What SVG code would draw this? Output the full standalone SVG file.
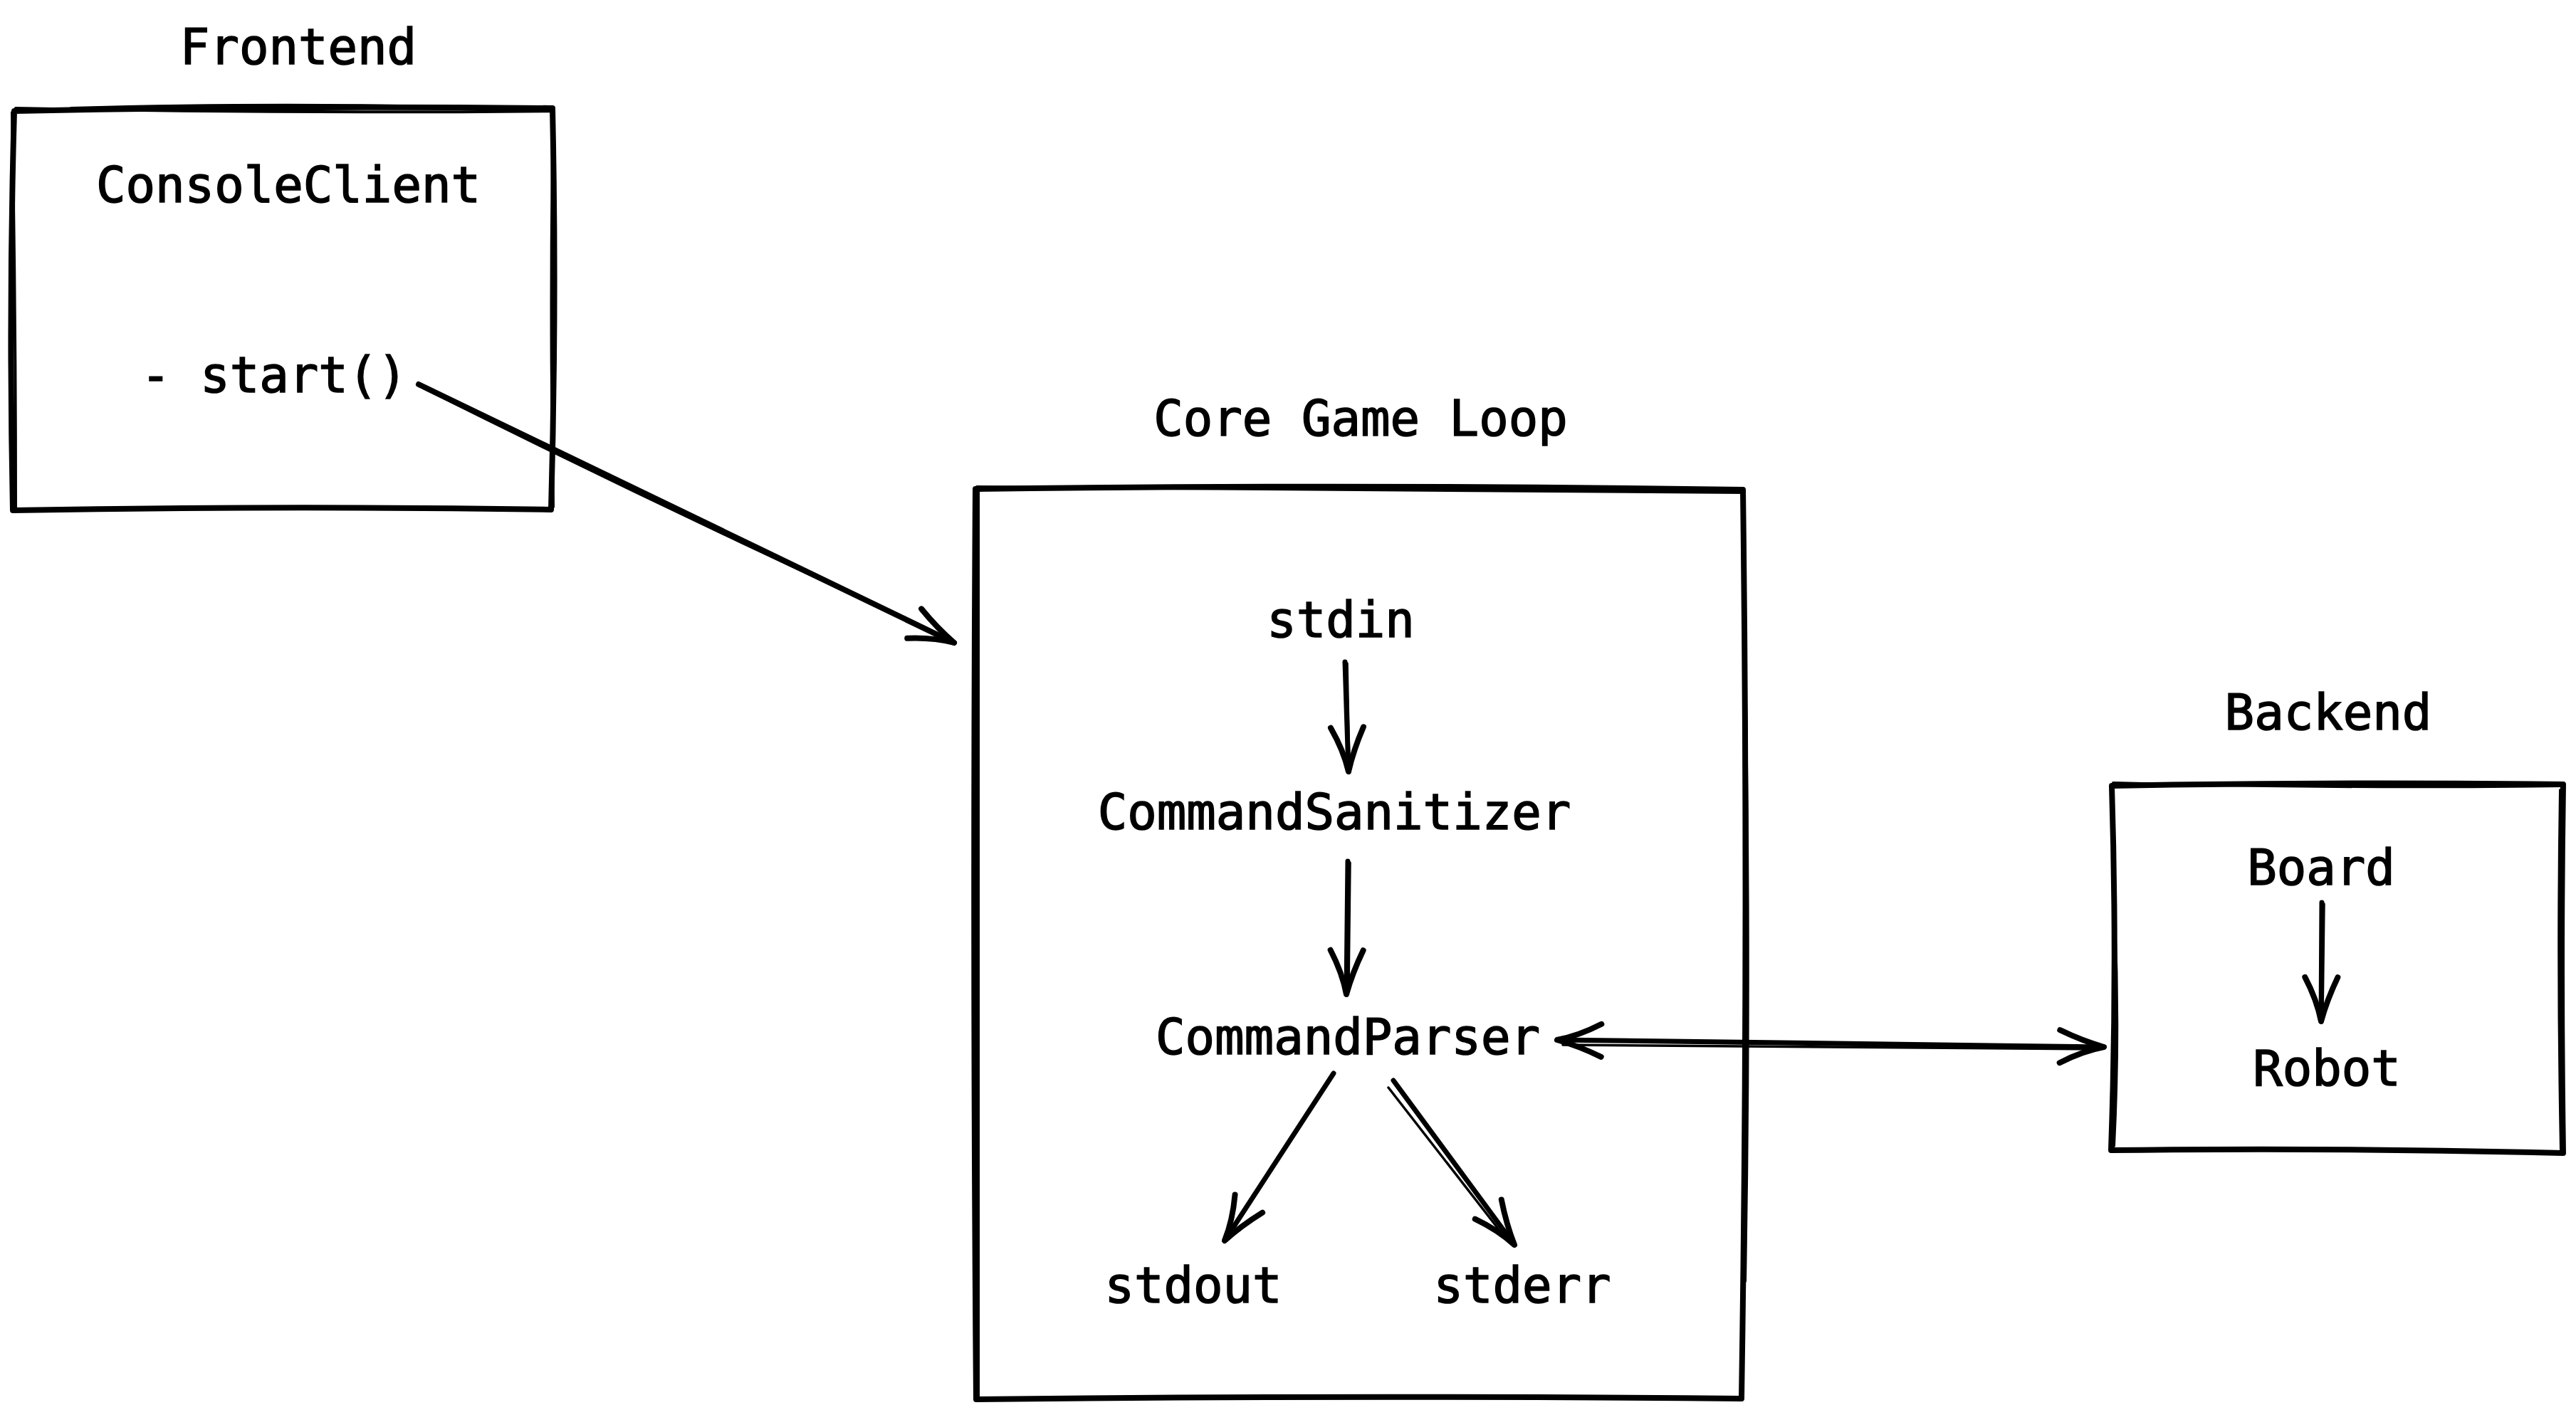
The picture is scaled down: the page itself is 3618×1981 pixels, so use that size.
<svg xmlns="http://www.w3.org/2000/svg" width="3618" height="1981" viewBox="0 0 3618 1981">
<defs>
<style>
.lbl{font-family:"DejaVu Sans Mono","Liberation Mono",monospace;font-size:69px;fill:#000;stroke:#000;stroke-width:1.6;text-anchor:middle}
.edge{fill:none;stroke:#000;stroke-width:8;stroke-linecap:round;stroke-linejoin:round}
.edge2{fill:none;stroke:#000;stroke-width:4;stroke-linecap:round;stroke-linejoin:round}
.conn{fill:none;stroke:#000;stroke-width:7;stroke-linecap:round;stroke-linejoin:round}
.conn2{fill:none;stroke:#000;stroke-width:3.5;stroke-linecap:round}
</style>
<marker id="head" markerUnits="userSpaceOnUse" viewBox="-100 -100 200 200" markerWidth="200" markerHeight="200" refX="0" refY="0" orient="auto-start-reverse" overflow="visible">
<path d="M -62 -23 Q -30 -8 0 0 Q -30 6 -62 23" fill="none" stroke="#000" stroke-width="8" stroke-linecap="round" stroke-linejoin="round"/>
</marker>
</defs>
<rect width="3618" height="1981" fill="#fff"/>

<g id="frontend">
<text class="lbl" x="419" y="90">Frontend</text>
<path class="edge" d="M20 156 Q400 148 776 152 Q782 430 774 716 Q400 710 18 717 Q12 430 20 156 Z"/>
<path class="edge2" d="M22 152 Q400 160 778 156 M100 152 Q400 144 640 151 M777 158 Q772 430 777 712 M17 158 Q22 430 22 714"/>
<text class="lbl" x="405" y="284">ConsoleClient</text>
<text class="lbl" x="385" y="551">- start()</text>
</g>

<g id="core">
<text class="lbl" x="1911" y="612">Core Game Loop</text>
<path class="edge" d="M1370 687 Q1900 680 2448 688 Q2456 1320 2446 1965 Q1900 1960 1371 1966 Q1366 1320 1370 687 Z"/>
<path class="edge2" d="M1372 684 Q1900 688 2450 692 M2452 990 Q2458 1400 2451 1800 M1374 690 Q1376 1320 1374 1962"/>
<text class="lbl" x="1883" y="895">stdin</text>
<text class="lbl" x="1874" y="1165">CommandSanitizer</text>
<text class="lbl" x="1893" y="1481">CommandParser</text>
<text class="lbl" x="1676" y="1830">stdout</text>
<text class="lbl" x="2138" y="1830">stderr</text>
</g>

<g id="backend">
<text class="lbl" x="3270" y="1025">Backend</text>
<path class="edge" d="M2966 1104 Q3280 1098 3600 1102 Q3596 1360 3600 1620 Q3280 1612 2965 1616 Q2974 1360 2966 1104 Z"/>
<path class="edge2" d="M2968 1100 Q3280 1108 3598 1104 M2970 1290 Q2977 1450 2969 1610 M3596 1110 Q3592 1360 3597 1615"/>
<text class="lbl" x="3260" y="1243">Board</text>
<text class="lbl" x="3268" y="1525">Robot</text>
</g>

<g id="connectors">
<path class="conn" d="M588 540 Q960 720 1340 903" marker-end="url(#head)" style="stroke-width:8"/>
<path class="conn2" d="M596 546 Q960 728 1334 898"/>
<path class="conn" d="M1889 930 L1894 1084" marker-end="url(#head)"/>
<path class="conn2" d="M1892 932 L1895 1078"/>
<path class="conn" d="M1893 1210 L1891 1397" marker-end="url(#head)"/>
<path class="conn2" d="M1896 1212 L1894 1392"/>
<path class="conn" d="M1873 1508 L1720 1743" marker-end="url(#head)"/>
<path class="conn2" d="M1870 1512 L1725 1738"/>
<path class="conn" d="M1957 1518 L2127 1749" marker-end="url(#head)"/>
<path class="conn2" d="M1950 1528 L2118 1744"/>
<path class="conn" d="M2187 1461 L2955 1471" marker-start="url(#head)" marker-end="url(#head)"/>
<path class="conn2" d="M2195 1468 L2950 1474"/>
<path class="conn" d="M3261 1268 L3260 1435" marker-end="url(#head)"/>
<path class="conn2" d="M3264 1270 L3262 1430"/>
</g>
</svg>
